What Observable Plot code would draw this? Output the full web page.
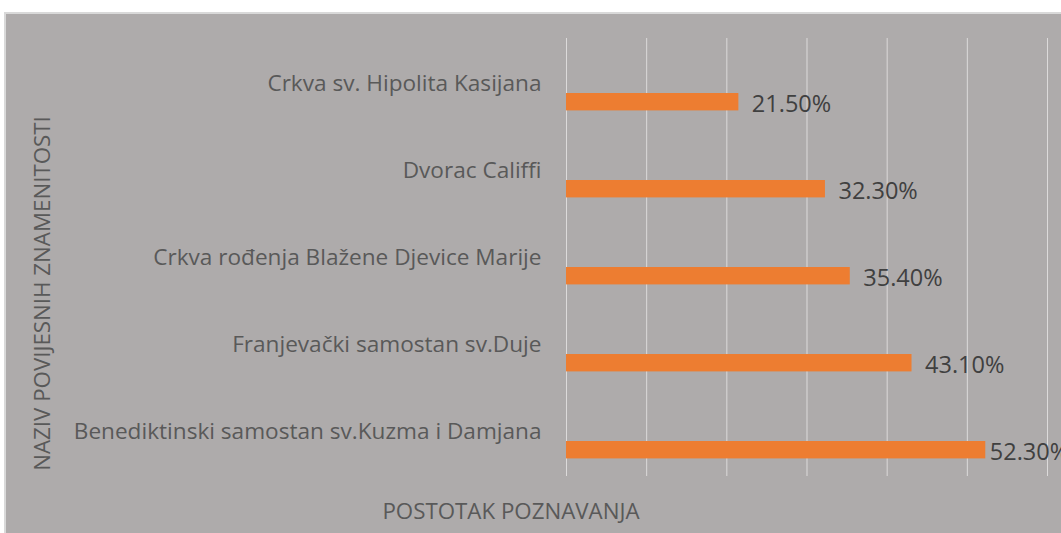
<!DOCTYPE html>
<html><head><meta charset="utf-8">
<script src="https://cdn.jsdelivr.net/npm/d3@7"></script>
<script src="https://cdn.jsdelivr.net/npm/@observablehq/plot@0.6"></script>
<style>
html,body{margin:0;padding:0;background:#fff;width:1061px;height:533px;overflow:hidden;}
#panel{position:absolute;left:4px;top:12px;border-top:2px solid #d9d9d9;border-left:2px solid #d9d9d9;background:#aeabab;}
#panel svg{display:block;}
</style></head><body><div id="panel"></div>
<script>
const categories = [
  "Crkva sv. Hipolita Kasijana",
  "Dvorac Califfi",
  "Crkva rođenja Blažene Djevice Marije",
  "Franjevački samostan sv.Duje",
  "Benediktinski samostan sv.Kuzma i Damjana"
];
const values = [0.215, 0.323, 0.354, 0.431, 0.523];
const xTicks = [0, 0.1, 0.2, 0.3, 0.4, 0.5, 0.6];
const yTitle = "NAZIV POVIJESNIH ZNAMENITOSTI";
const xTitle = "POSTOTAK POZNAVANJA";

const data = categories.map((c, i) => ({category: c, value: values[i]}));
const fmt = d3.format(".2%");
const font = "'Open Sans', sans-serif";

const chart = Plot.plot({
  width: 1055, height: 519,
  marginLeft: 560, marginRight: 14, marginTop: 24, marginBottom: 57,
  style: {background: "#aeabab", fontFamily: font, color: "#595959", overflow: "visible"},
  x: {domain: [0, 0.6], axis: null},
  y: {domain: categories, padding: 0},
  marks: [
    Plot.gridX(xTicks, {stroke: "#dcdada", strokeOpacity: 1, strokeWidth: 1}),
    Plot.barX(data, {x: "value", y: "category", fill: "#ED7D31", insetTop: 53, insetBottom: 16.6}),
    Plot.axisY({tickSize: 0, tickPadding: 25, fontSize: 22.6, fill: "#595959", label: null}),
    Plot.text(data.filter(d => d.value < 0.5), {x: "value", y: "category", text: d => fmt(d.value), textAnchor: "start", dx: 13, dy: 20, fontSize: 23.5, fill: "#404040"}),
    Plot.text(data.filter(d => d.value >= 0.5), {x: "value", y: "category", text: d => fmt(d.value), textAnchor: "start", dx: 4, dy: 20, fontSize: 23.5, fill: "#404040"}),
    Plot.text([yTitle], {frameAnchor: "left", text: d => d, rotate: -90, textAnchor: "middle", dx: -524, dy: 36, fontSize: 22.3, fill: "#595959", lineAnchor: "middle"}),
    Plot.text([xTitle], {frameAnchor: "bottom", text: d => d, textAnchor: "middle", dx: -296, dy: 35, fontSize: 22.3, fill: "#595959", lineAnchor: "middle"})
  ]
});
document.getElementById("panel").appendChild(chart);
</script>
</body></html>
